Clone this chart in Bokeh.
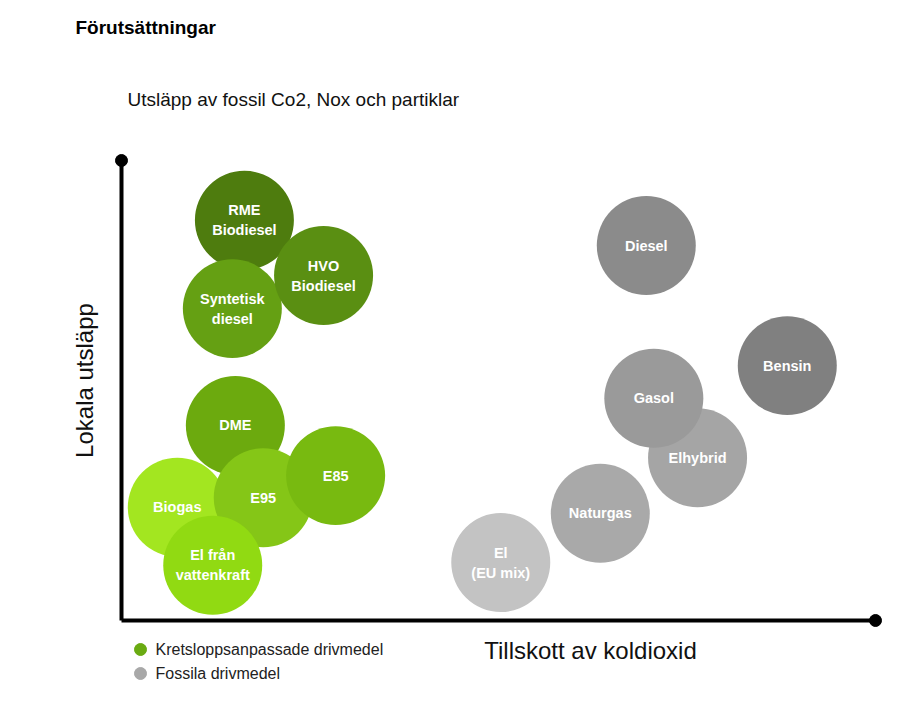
import math
from bokeh.plotting import figure
from bokeh.models import Range1d, Label, ColumnDataSource
from bokeh.core.properties import value
from bokeh.embed import file_html
from bokeh.resources import INLINE

# ---- data (scores on 0..100 axes) ----
green_names = ["RME\nBiodiesel", "Syntetisk\ndiesel", "HVO\nBiodiesel", "DME",
               "Biogas", "E95", "E85", "El från\nvattenkraft"]
green_x = [16.3, 14.7, 26.8, 15.1, 7.4, 18.8, 28.4, 12.1]
green_y = [87.0, 67.8, 75.0, 42.4, 24.6, 26.7, 31.5, 12.0]
green_colors = ["#4e7c0e", "#65a013", "#5a8f12", "#6caa0e",
                "#a3e620", "#85c617", "#78ba10", "#91da12"]

fossil_names = ["Diesel", "Bensin", "Elhybrid", "Gasol", "Naturgas", "El\n(EU mix)"]
fossil_x = [69.6, 88.3, 76.4, 70.6, 63.5, 50.3]
fossil_y = [81.5, 55.4, 35.4, 48.3, 23.3, 12.6]
fossil_colors = ["#8b8b8b", "#808080", "#a5a5a5", "#9a9a9a", "#a9a9a9", "#c3c3c3"]

legend_labels = ["Kretsloppsanpassade drivmedel", "Fossila drivmedel"]
legend_colors = ["#6aab12", "#a8a8a8"]

# ---- layout ----
W, H = 914, 718
OX, OY = 121, 620          # origin in pixels
XLEN, YLEN = 754, 460      # axis lengths in pixels
sx = XLEN / 100.0
sy = YLEN / 100.0

def px2x(px):
    return (px - OX) / sx

def py2y(py):
    return (OY - py) / sy

p = figure(width=W, height=H, output_backend="svg", toolbar_location=None,
           x_range=Range1d(px2x(0), px2x(W)), y_range=Range1d(py2y(H), py2y(0)),
           min_border=0)
p.axis.visible = False
p.grid.visible = False
p.outline_line_color = None
p.background_fill_color = "white"
p.border_fill_color = "white"

FONT = "Liberation Sans"

# axes
p.line([0, 0], [0, 100], line_color="black", line_width=4)
p.line([0, 100], [0, 0], line_color="black", line_width=4)
p.scatter([0, 100], [100, 0], size=12, color="black")

# bubbles
gsrc = ColumnDataSource(dict(x=green_x, y=green_y, c=green_colors, t=green_names))
fsrc = ColumnDataSource(dict(x=fossil_x, y=fossil_y, c=fossil_colors, t=fossil_names))
for src in (gsrc, fsrc):
    p.scatter("x", "y", source=src, size=99, fill_color="c", line_color=None)
    p.text("x", "y", text="t", source=src, text_color="white",
           text_font=value(FONT), text_font_style="bold", text_font_size="14.5px",
           text_align="center", text_baseline="middle", text_line_height=1.25)

# legend
ly = [py2y(649), py2y(673)]
p.scatter([px2x(140)] * 2, ly, size=12, color=legend_colors)
for lab, yy in zip(legend_labels, ly):
    p.add_layout(Label(x=px2x(155), y=yy, text=lab, text_font=FONT,
                       text_font_size="16px", text_color="#222222",
                       text_baseline="middle", text_align="left"))

# titles and axis labels
p.add_layout(Label(x=px2x(75), y=py2y(27), text="Förutsättningar", text_font=FONT,
                   text_font_style="bold", text_font_size="19px", text_color="black",
                   text_baseline="middle"))
p.add_layout(Label(x=px2x(127), y=py2y(99), text="Utsläpp av fossil Co2, Nox och partiklar",
                   text_font=FONT, text_font_size="19px", text_color="#111111",
                   text_baseline="middle"))
p.add_layout(Label(x=px2x(590), y=py2y(650), text="Tillskott av koldioxid",
                   text_font=FONT, text_font_size="24px", text_color="#111111",
                   text_baseline="middle", text_align="center"))
p.add_layout(Label(x=px2x(84), y=py2y(380), text="Lokala utsläpp", angle=math.pi / 2,
                   text_font=FONT, text_font_size="24px", text_color="#111111",
                   text_baseline="middle", text_align="center"))

open("out.html", "w").write(file_html(p, INLINE))
